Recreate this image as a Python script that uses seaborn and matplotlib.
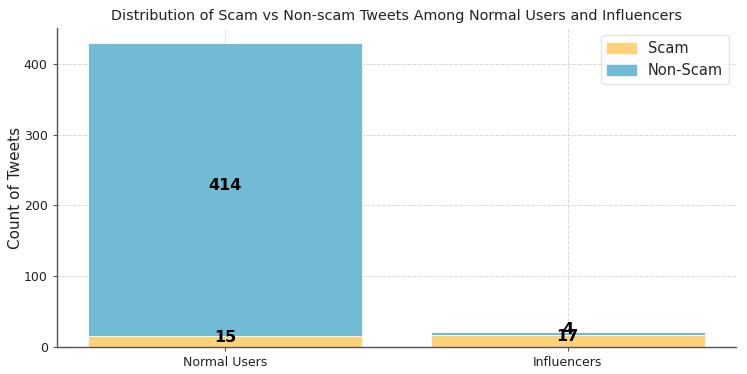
import matplotlib
matplotlib.use("Agg")
import matplotlib.pyplot as plt
import pandas as pd
import seaborn as sns

USER_GROUPS = ["Normal Users", "Influencers"]
SCAM_COUNTS = [15, 17]
NON_SCAM_COUNTS = [414, 4]

SCAM_COLOR = "#FFD27A"
NON_SCAM_COLOR = "#72BBD5"

sns.set_style("whitegrid", {"grid.linestyle": "--", "grid.color": "#d9d9d9"})
plt.rcParams["font.family"] = ["DejaVu Sans"]


def main():
    df = pd.DataFrame({
        "group": USER_GROUPS,
        "scam": SCAM_COUNTS,
        "non_scam": NON_SCAM_COUNTS,
    })
    df["total"] = df["scam"] + df["non_scam"]

    fig, ax = plt.subplots(figsize=(7.47, 3.74), dpi=100)
    fig.subplots_adjust(left=0.076, right=0.985, bottom=0.072, top=0.925)

    # stack: draw totals first in blue, then scam counts over them in yellow
    sns.barplot(data=df, x="group", y="total", color=NON_SCAM_COLOR, saturation=1,
                width=0.8, edgecolor="white", linewidth=0.6, ax=ax)
    sns.barplot(data=df, x="group", y="scam", color=SCAM_COLOR, saturation=1,
                width=0.8, edgecolor="white", linewidth=0.6, ax=ax)

    # count labels, middle of each segment, nudged up a little
    for i, row in df.iterrows():
        ax.annotate(str(row["scam"]), (i, row["scam"] / 2), xytext=(0, 3),
                    textcoords="offset points", ha="center", va="center",
                    fontsize=11.5, fontweight="bold", color="black")
        ax.annotate(str(row["non_scam"]), (i, row["scam"] + row["non_scam"] / 2),
                    xytext=(0, 3), textcoords="offset points", ha="center", va="center",
                    fontsize=11.5, fontweight="bold", color="black")

    ax.set_xlim(-0.49, 1.49)
    ax.set_ylim(0, df["total"].max() * 1.05)
    ax.set_yticks([0, 100, 200, 300, 400])

    ax.set_title("Distribution of Scam vs Non-scam Tweets Among Normal Users and Influencers",
                 fontsize=10.4, color="#222222")
    ax.set_xlabel("")
    ax.set_ylabel("Count of Tweets", fontsize=11, color="#222222")
    ax.yaxis.set_label_coords(-0.049, 0.5)
    ax.tick_params(axis="both", labelsize=9, colors="#222222", length=3, color="#555555")
    ax.tick_params(axis="both", which="both", bottom=True, left=True)

    for side in ["top", "right"]:
        ax.spines[side].set_visible(False)
    for side in ["left", "bottom"]:
        ax.spines[side].set_visible(True)
        ax.spines[side].set_color("#555555")
        ax.spines[side].set_linewidth(1.0)
    ax.grid(True, linestyle="--", color="#d9d9d9", linewidth=0.7)
    ax.set_axisbelow(True)

    handles = [
        plt.Rectangle((0, 0), 1, 1, color=SCAM_COLOR),
        plt.Rectangle((0, 0), 1, 1, color=NON_SCAM_COLOR),
    ]
    ax.legend(handles, ["Scam", "Non-Scam"], loc="upper right", fontsize=10.5,
              frameon=True, edgecolor="#dddddd")

    fig.savefig("out.png", dpi=100)
    plt.close(fig)


if __name__ == "__main__":
    main()
